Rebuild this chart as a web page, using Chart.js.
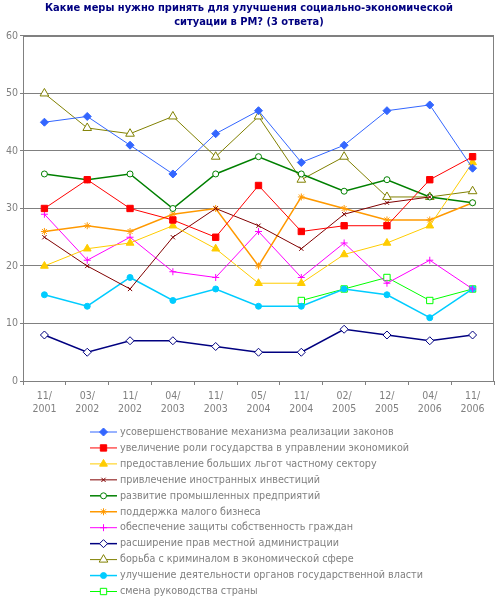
<!DOCTYPE html>
<html>
<head>
<meta charset="utf-8">
<script src="https://cdn.jsdelivr.net/npm/chart.js@4.4.1/dist/chart.umd.min.js"></script>
<style>
  html, body { margin: 0; padding: 0; background: #fff; }
  #wrap { width: 500px; height: 600px; }
</style>
</head>
<body>
<div id="wrap"><canvas id="reformChart" width="500" height="600"></canvas></div>
<script>
// survey dates (x axis)
var periods = [['11/', '2001'], ['03/', '2002'], ['11/', '2002'], ['04/', '2003'], ['11/', '2003'],
               ['05/', '2004'], ['11/', '2004'], ['02/', '2005'], ['12/', '2005'], ['04/', '2006'], ['11/', '2006']];

var seriesNames = [
    'усовершенствование механизма реализации законов',
    'увеличение роли государства в управлении экономикой',
    'предоставление больших льгот частному сектору',
    'привлечение иностранных инвестиций',
    'развитие промышленных предприятий',
    'поддержка малого бизнеса',
    'обеспечение защиты собственность граждан',
    'расширение прав местной администрации',
    'борьба с криминалом в экономической сфере',
    'улучшение деятельности органов государственной власти',
    'смена руководства страны'
];

// values, % of answers
var lawMechanism   = [45, 46, 41, 36, 43, 47, 38, 41, 47, 48, 37];
var stateRole      = [30, 35, 30, 28, 25, 34, 26, 27, 27, 35, 39];
var privateSector  = [20, 23, 24, 27, 23, 17, 17, 22, 24, 27, 38];
var foreignInvest  = [25, 20, 16, 25, 30, 27, 23, 29, 31, 32, null];
var industry       = [36, 35, 36, 30, 36, 39, 36, 33, 35, 32, 31];
var smallBusiness  = [26, 27, 26, 29, 30, 20, 32, 30, 28, 28, 31];
var propertyRights = [29, 21, 25, 19, 18, 26, 18, 24, 17, 21, 16];
var localAdmin     = [8, 5, 7, 7, 6, 5, 5, 9, 8, 7, 8];
var crimeFight     = [50, 44, 43, 46, 39, 46, 35, 39, 32, 32, 33];
var govBodies      = [15, 13, 18, 14, 16, 13, 13, 16, 15, 11, 16];
var leaderChange   = [null, null, null, null, null, null, 14, 16, 18, 14, 16];

var yTicks = [0, 10, 20, 30, 40, 50, 60];

var FONT = '"DejaVu Sans Condensed", "DejaVu Sans", sans-serif';
var GREY = '#808080';

function makeSet(name, data, color, style, radius, hollow, width) {
    return {
        label: name,
        data: data,
        borderColor: color,
        backgroundColor: color,
        pointBackgroundColor: hollow ? '#ffffff' : color,
        pointBorderColor: color,
        pointStyle: style,
        pointRadius: radius,
        pointHoverRadius: radius,
        pointBorderWidth: 1,
        borderWidth: width,
        tension: 0,
        spanGaps: false
    };
}

var datasets = [
    makeSet(seriesNames[0], lawMechanism, '#3366FF', 'rectRot', 4, false, 1),
    makeSet(seriesNames[1], stateRole, '#FF0000', 'rect', 4.5, false, 1),
    makeSet(seriesNames[2], privateSector, '#FFCC00', 'triangle', 4.5, false, 1),
    makeSet(seriesNames[3], foreignInvest, '#800000', 'crossRot', 3, false, 1),
    makeSet(seriesNames[4], industry, '#008000', 'circle', 3, true, 1.5),
    makeSet(seriesNames[5], smallBusiness, '#FF9900', 'star', 3.5, false, 1.5),
    makeSet(seriesNames[6], propertyRights, '#FF00FF', 'cross', 3.5, false, 1),
    makeSet(seriesNames[7], localAdmin, '#000080', 'rectRot', 4, true, 1.5),
    makeSet(seriesNames[8], crimeFight, '#808000', 'triangle', 5, true, 1),
    makeSet(seriesNames[9], govBodies, '#00CCFF', 'circle', 3, false, 1.5),
    makeSet(seriesNames[10], leaderChange, '#00FF00', 'rect', 4.5, true, 1)
];

// grey frame around the plot area
var framePlugin = {
    id: 'frame',
    afterDatasetsDraw: function(chart) {
        var a = chart.chartArea, ctx = chart.ctx;
        ctx.save();
        ctx.strokeStyle = GREY;
        ctx.lineWidth = 1;
        ctx.strokeRect(Math.round(a.left) + 0.5, Math.round(a.top) + 0.5,
                       Math.round(a.right - a.left) - 1, Math.round(a.bottom - a.top));
        ctx.restore();
    }
};

// legend in one column under the axis
var columnLegend = {
    id: 'columnLegend',
    afterDraw: function(chart) {
        var ctx = chart.ctx;
        var x0 = 90, y0 = 432, step = 15.95;
        ctx.save();
        chart.data.datasets.forEach(function(ds, i) {
            var y = y0 + i * step;
            ctx.strokeStyle = ds.borderColor;
            ctx.lineWidth = ds.borderWidth;
            ctx.beginPath();
            ctx.moveTo(x0, y);
            ctx.lineTo(x0 + 27, y);
            ctx.stroke();
            ctx.fillStyle = ds.pointBackgroundColor;
            ctx.strokeStyle = ds.pointBorderColor;
            ctx.lineWidth = 1;
            Chart.helpers.drawPoint(ctx, {pointStyle: ds.pointStyle, radius: ds.pointRadius, rotation: 0, borderWidth: 1}, x0 + 13.5, y);
            ctx.fillStyle = GREY;
            ctx.font = '10.7px ' + FONT;
            ctx.textBaseline = 'middle';
            ctx.textAlign = 'left';
            ctx.fillText(ds.label, x0 + 30, y);
        });
        ctx.restore();
    }
};

const ctx = document.getElementById('reformChart').getContext('2d');
const chart = new Chart(ctx, {
    type: 'line',
    data: {
        labels: periods,
        datasets: datasets
    },
    options: {
        responsive: false,
        animation: false,
        devicePixelRatio: 1,
        layout: { padding: { left: 0, right: 2, top: 0, bottom: 177 } },
        plugins: {
            legend: { display: false },
            tooltip: { enabled: false },
            title: {
                display: true,
                text: ['Какие меры нужно принять для улучшения социально-экономической', 'ситуации в РМ? (3 ответа)'],
                color: '#000080',
                font: { family: FONT, size: 11, weight: 'bold', lineHeight: 1.27 },
                padding: { top: 1, bottom: 7 }
            }
        },
        scales: {
            x: {
                offset: true,
                grid: { display: true, offset: true, drawOnChartArea: false, color: GREY, tickLength: 4 },
                border: { color: GREY },
                ticks: { color: GREY, font: { family: FONT, size: 10.5, lineHeight: 1.3 }, padding: 4, maxRotation: 0, autoSkip: false },
                afterFit: function(scale) { scale.height = 42; }
            },
            y: {
                min: 0,
                max: 60,
                afterBuildTicks: function(scale) { scale.ticks = yTicks.map(function(v) { return { value: v }; }); },
                grid: { color: GREY, tickLength: 3 },
                border: { color: GREY },
                ticks: { color: GREY, font: { family: FONT, size: 10.5 }, padding: 2 },
                afterFit: function(scale) { scale.width = 23; }
            }
        }
    },
    plugins: [framePlugin, columnLegend]
});
</script>
</body>
</html>
